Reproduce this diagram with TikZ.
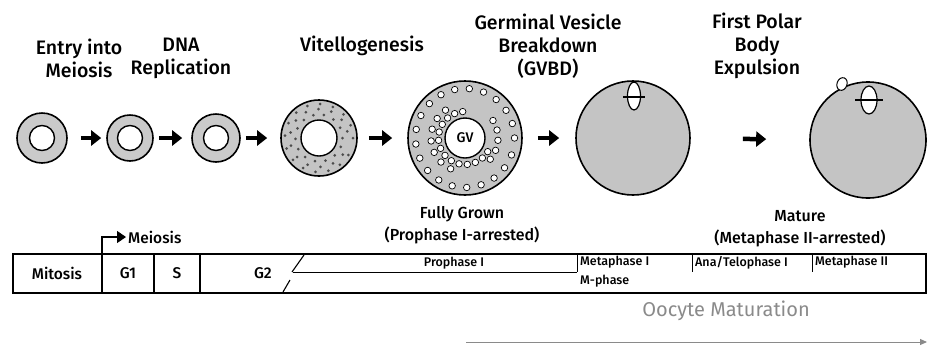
\documentclass[tikz,border=0pt]{standalone}
\usepackage{fontspec}
\setmainfont{Fira Sans}
\newfontfamily\headfont{Fira Sans Medium}
\usetikzlibrary{arrows.meta}

\definecolor{cellgray}{HTML}{C4C4C4}
\definecolor{ringgray}{HTML}{CACACA}
\definecolor{labelgray}{HTML}{8A8A8A}

\tikzset{
  heading/.style={align=center, font=\headfont\fontsize{19.5}{23}\selectfont, inner sep=0pt},
  caption/.style={align=center, font=\headfont\fontsize{16}{21.5}\selectfont, inner sep=0pt},
  cell/.style={circle, draw=black, line width=1.6pt, fill=cellgray, inner sep=0pt},
  nucleus/.style={circle, draw=black, line width=1.4pt, fill=white, inner sep=0pt},
  vesicle/.style={circle, draw=black, line width=0.7pt, fill=white, inner sep=0pt, minimum size=6.5pt},
  yolk/.style={circle, fill=black!70, inner sep=0pt, minimum size=3pt},
  spindle/.style={draw=black, line width=1.2pt, fill=white},
  stagearrow/.style={line width=4.5pt, -{Triangle[length=10pt,width=15pt]}},
  rule/.style={line width=1.1pt},
  celltext/.style={font=\headfont\fontsize{15.5}{18}\selectfont, inner sep=0pt},
  phasetext/.style={font=\headfont\fontsize{12.5}{14}\selectfont, inner sep=0pt},
}

\begin{document}
\begin{tikzpicture}[x=1pt, y=-1pt]
\useasboundingbox (0,0) rectangle (930,349);

% ---- stage headings ----
\node[heading] (h1) at (79,58.5) {Entry into\\Meiosis};
\node[heading] (h2) at (181,58.5) {DNA\\Replication};
\node[heading] (h3) at (362,46) {Vitellogenesis};
\node[heading] (h4) at (548,46) {Germinal Vesicle\\Breakdown\\(GVBD)};
\node[heading] (h5) at (757,46) {First Polar\\Body\\Expulsion};

% ---- small oocytes ----
\node[cell, fill=ringgray, minimum size=50pt] (c1) at (42,138) {};
\node[nucleus, minimum size=25pt] (n1) at (c1) {};
\node[cell, fill=ringgray, minimum size=46pt] (c2) at (130,138) {};
\node[nucleus, minimum size=25pt] (n2) at (c2) {};
\node[cell, fill=ringgray, minimum size=48pt] (c3) at (216,138) {};
\node[nucleus, minimum size=25pt] (n3) at (c3) {};

% ---- vitellogenic oocyte with yolk ----
\node[cell, minimum size=76pt] (c4) at (319,138) {};
\node[nucleus, minimum size=36pt] (n4) at (c4) {};
\foreach \a in {0,26,...,340} \path (c4) ++(\a:23.5pt) node[yolk] {};
\foreach \a in {13,39,...,350} \path (c4) ++(\a:29pt) node[yolk] {};
\foreach \a in {0,22,...,340} \path (c4) ++(\a:34pt) node[yolk] {};

% ---- fully grown oocyte ----
\node[cell, minimum size=114pt] (c5) at (465,138) {};
\node[nucleus, minimum size=40pt, font=\headfont\fontsize{14}{16}\selectfont] (gv) at (c5) {GV};
\foreach \a in {95,113,...,330} \path (gv) ++(\a:26.5pt) node[vesicle] {};
\foreach \a in {125,145,...,250} \path (gv) ++(\a:34pt) node[vesicle] {};
\foreach \a in {-40,-22,...,45} \path (gv) ++(\a:33pt) node[vesicle] {};
\foreach \a in {0,17,...,350} \path (c5) ++(\a:49.5pt) node[vesicle] {};

% ---- GVBD oocyte ----
\node[cell, minimum size=114pt] (c6) at (633,138) {};
\draw[spindle] (634,96) ellipse [x radius=6.5pt, y radius=14pt];
\draw[line width=1.2pt] (623,97) -- (645,97);

% ---- mature oocyte with polar body ----
\node[cell, minimum size=116pt] (c7) at (868,140) {};
\draw[spindle] (869,100) ellipse [x radius=8pt, y radius=14pt];
\draw[line width=1.2pt] (855,100) -- (883,100);
\draw[spindle, line width=1pt, rotate around={-20:(842,84)}] (842,84) ellipse [x radius=5pt, y radius=6.5pt];

% ---- stage arrows ----
\draw[stagearrow, shorten <=13pt, shorten >=5pt] (c1) -- (c2);
\draw[stagearrow, shorten <=5pt, shorten >=9pt] (c2) -- (c3);
\draw[stagearrow, shorten <=5pt, shorten >=13pt] (c3) -- (c4);
\draw[stagearrow, shorten <=11pt, shorten >=15pt] (c4) -- (c5);
\draw[stagearrow, shorten <=15pt, shorten >=16pt] (c5) -- (c6);
\draw[stagearrow, shorten <=52pt, shorten >=43pt] (c6) -- (c7);

% ---- captions ----
\node[caption] (fg) at (462,225) {Fully Grown\\(Prophase I-arrested)};
\node[caption] (mat) at (800,228.5) {Mature\\(Metaphase II-arrested)};

% ---- cell cycle table ----
\draw[rule] (13,254) rectangle (926,293);
\draw[rule] (102,254) -- (102,293);
\draw[rule] (154,254) -- (154,293);
\draw[rule] (200,254) -- (200,293);
\draw[rule] (283,292) -- (290,280);
\draw[rule] (292,272) -- (304,255);
\draw[line width=0.9pt] (293,272) -- (577,272);
\draw[line width=0.9pt] (577,254) -- (577,272);
\draw[line width=0.9pt] (692,254) -- (692,272);
\draw[line width=0.9pt] (812,254) -- (812,272);

\node[celltext] (mit) at (57,273.5) {Mitosis};
\node[celltext] (g1) at (128,273.5) {G1};
\node[celltext] (s) at (177,273.5) {S};
\node[celltext] (g2) at (263,273.5) {G2};
\node[phasetext] (pro) at (454,263) {Prophase I};
\node[phasetext, anchor=west] (met1) at (580,262.5) {Metaphase I};
\node[phasetext, anchor=west] (ana) at (695,262.5) {Ana/Telophase I};
\node[phasetext, anchor=west] (met2) at (815,262.5) {Metaphase II};
\node[phasetext, anchor=west] (mph) at (580,281) {M-phase};

% ---- meiosis entry marker ----
\coordinate (mroot) at (102,254);
\node[celltext, anchor=west] (meio) at (128,237) {Meiosis};
\draw[line width=1.3pt, -{Triangle[length=9pt,width=12pt]}, shorten >=2pt] (mroot) |- (meio.west);

% ---- maturation axis ----
\node[font=\fontsize{20}{22}\selectfont, text=labelgray, inner sep=0pt] (om) at (726,311) {Oocyte Maturation};
\coordinate (omstart) at (466,342);
\coordinate (omend) at (927,342);
\draw[labelgray, line width=1pt, -{Triangle[length=7pt,width=6pt]}] (omstart) -- (omend);
\end{tikzpicture}
\end{document}
